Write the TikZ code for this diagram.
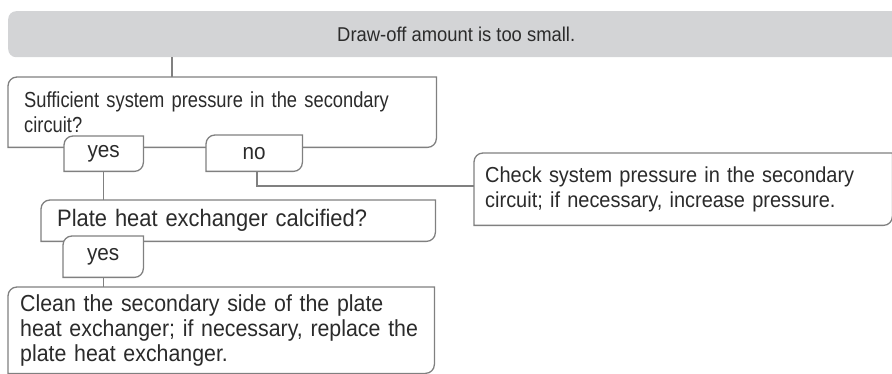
\documentclass[tikz,border=0pt]{standalone}
\usepackage{fontspec}
\setmainfont{Liberation Sans}[FakeStretch=0.92]
\newfontfamily\narrowsans{Liberation Sans}[FakeStretch=0.84]
\definecolor{lin}{HTML}{808080}
\definecolor{bar}{HTML}{D3D4D6}
\definecolor{txt}{HTML}{2B2B2B}
\pgfdeclarelayer{frames}
\pgfsetlayers{frames,main}
\newcommand\tlbrframe[1]{%
  \draw[boxline] (#1.south west) -- ([yshift=-9pt]#1.north west)
    .. controls ([yshift=-4pt]#1.north west) and ([xshift=4pt]#1.north west) .. ([xshift=9pt]#1.north west)
    -- (#1.north east) -- ([yshift=9pt]#1.south east)
    .. controls ([yshift=4pt]#1.south east) and ([xshift=-4pt]#1.south east) .. ([xshift=-9pt]#1.south east)
    -- cycle;}
\begin{document}
\begin{tikzpicture}[x=1pt,y=-1pt,
  font=\fontsize{20}{25}\selectfont, text=txt,
  boxline/.style={draw=lin, line width=1.3pt, fill=white},
  conn/.style={draw=lin, line width=1.3pt},
  noconn/.style={draw=lin, line width=2pt},
  tb/.style={rectangle, inner ysep=0pt, anchor=north west, align=left},
  tab/.style={rectangle, inner sep=0pt, anchor=north west, align=center, font=\fontsize{22.5}{25}\selectfont},
  titlebar/.style={rectangle, fill=bar, rounded corners=8pt, inner sep=0pt, anchor=north west}]
\useasboundingbox (0,0) rectangle (892,374);

\node[titlebar, minimum width=896pt, minimum height=46pt] (title) at (8,11) {Draw-off amount is too small.};

\node[tb, minimum width=428pt, minimum height=70pt, inner xsep=16pt, text width=396pt,
  font=\narrowsans\fontsize{21.8}{25}\selectfont] (q1) at (8,77)
  {Sufficient system pressure in the secondary\\circuit?};
\node[tab, minimum width=79pt, minimum height=35pt] (yes1) at (64,136) {yes};
\node[tab, minimum width=96pt, minimum height=36pt] (no) at (206,135) {no};

\node[tb, minimum width=418pt, minimum height=72pt, inner xsep=11pt, text width=396pt,
  font=\fontsize{21.7}{25}\selectfont] (act1) at (474,153)
  {Check system pressure in the secondary\\circuit; if necessary, increase pressure.};

\node[tb, minimum width=394pt, minimum height=41pt, inner xsep=16pt, text width=362pt,
  font=\fontsize{23.8}{25}\selectfont] (q2) at (41,200)
  {Plate heat exchanger calcified?};
\node[tab, minimum width=80pt, minimum height=41pt] (yes2) at (63,236) {yes};

\node[tb, minimum width=426pt, minimum height=86pt, inner xsep=12pt, text width=402pt,
  font=\fontsize{23.2}{25}\selectfont] (act2) at (8,287)
  {Clean the secondary side of the plate\\heat exchanger; if necessary, replace the\\plate heat exchanger.};

\begin{pgfonlayer}{frames}
  \tlbrframe{q1}
  \tlbrframe{yes1}
  \tlbrframe{no}
  \tlbrframe{act1}
  \tlbrframe{q2}
  \tlbrframe{yes2}
  \tlbrframe{act2}
\end{pgfonlayer}

\coordinate (c1) at (172,0);
\draw[conn] (title.south -| c1) -- (q1.north -| c1);
\draw[conn] (yes1.south) -- (q2.north -| yes1.south);
\draw[conn] (yes2.south) -- (act2.north -| yes2.south);
\draw[noconn] ([xshift=3pt]no.south) |- ([yshift=3pt]act1.west);
\end{tikzpicture}
\end{document}
